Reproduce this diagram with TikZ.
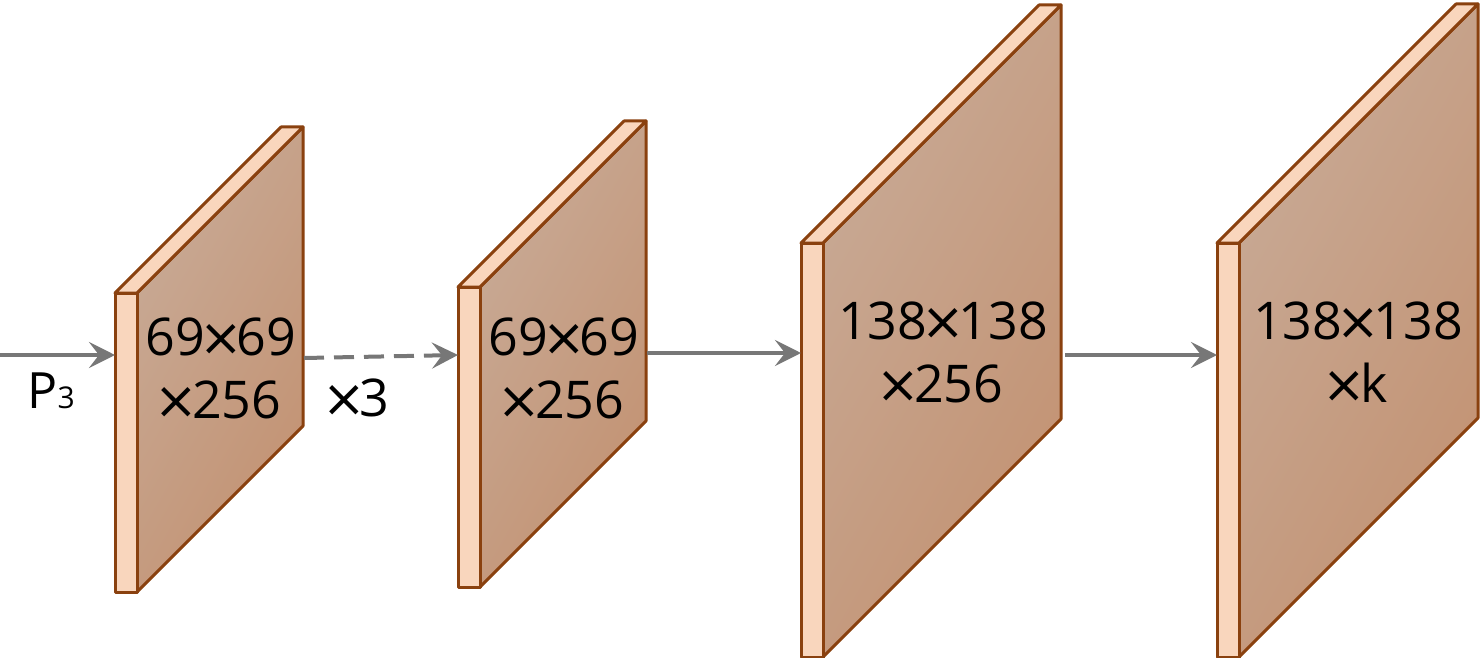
\documentclass[tikz,border=0pt]{standalone}
\usepackage{fontspec}
\setmainfont{Open Sans}
\newfontfamily\crossfont{DejaVu Sans}
\usepackage{tikz}
\usetikzlibrary{arrows.meta, positioning}
\definecolor{fmapedge}{HTML}{8A410F}
\definecolor{stripfill}{HTML}{F9D6BD}
\definecolor{facelight}{HTML}{C8AA96}
\definecolor{facedark}{HTML}{C39272}
\definecolor{arrowgray}{HTML}{777777}
\tikzstyle{fmapline} = [draw=fmapedge, line width=1.5pt, line join=round]
\tikzstyle{strip} = [fmapline, fill=stripfill]
\tikzstyle{face} = [fmapline, left color=facelight, right color=facedark, shading angle=60]
\tikzstyle{flow} = [draw=arrowgray, line width=2pt, -{Stealth[length=13pt, width=13pt, inset=5pt]}]
\tikzstyle{dim} = [align=center, font=\fontsize{26}{31.5}\selectfont, inner sep=0pt]
\tikzstyle{tag} = [font=\fontsize{25}{30}\selectfont, inner sep=0pt]

% feature map: name, left x, top y, height, depth
\newcommand{\fmap}[5]{%
	\path [face] ({#2+22},#3) -- ({#2+22+#5},{#3-#5}) -- ({#2+22+#5},{#3+#4-#5}) -- ({#2+22},{#3+#4}) -- cycle;
	\path [strip] (#2,#3) -- ({#2+#5},{#3-#5}) -- ({#2+22+#5},{#3-#5}) -- ({#2+22},#3) -- cycle;
	\path [strip] (#2,#3) rectangle ({#2+22},{#3+#4});
}
% a thin, wide times sign
\newcommand{\by}{\kern-3pt{\crossfont ×}\kern-3pt}

\begin{document}
\begin{tikzpicture}[x=0.5pt, y=-0.5pt]
			\useasboundingbox (0,0) rectangle (1483,658);
			
			\fmap{b1}{115}{293}{299}{166}
			\fmap{b2}{458}{287}{300}{166}
			\fmap{b3}{801}{243}{414}{238}
			\fmap{b4}{1217}{243}{414}{239}
			
			\coordinate (in) at (0,355);
			\coordinate (b1in) at (115,355);
			\coordinate (b1out) at (304,358);
			\coordinate (b2in) at (458,355);
			\coordinate (b2out) at (647,353);
			\coordinate (b3in) at (801,353);
			\coordinate (b3out) at (1065,355);
			\coordinate (b4in) at (1217,355);
			
			\node [dim] (d1) at (221,368) {69\by69\\\by256};
			\node [dim] (d2) at (564,368) {69\by69\\\by256};
			\node [dim] (d3) at (943,352) {138\by138\\\by256};
			\node [dim] (d4) at (1358,352) {138\by138\\\by k};
			
			\node [tag, anchor=base west] (p3) at (27,408) {P{\fontsize{15}{15}\selectfont 3}};
			\node [dim, anchor=base] (rep) at (359,416) {\by3};
			
			\path [flow] (in) -- (b1in);
			\path [flow, dash pattern=on 10pt off 5pt] (b1out) -- (b2in);
			\path [flow] (b2out) -- (b3in);
			\path [flow] (b3out) -- (b4in);
		\end{tikzpicture}
\end{document}
